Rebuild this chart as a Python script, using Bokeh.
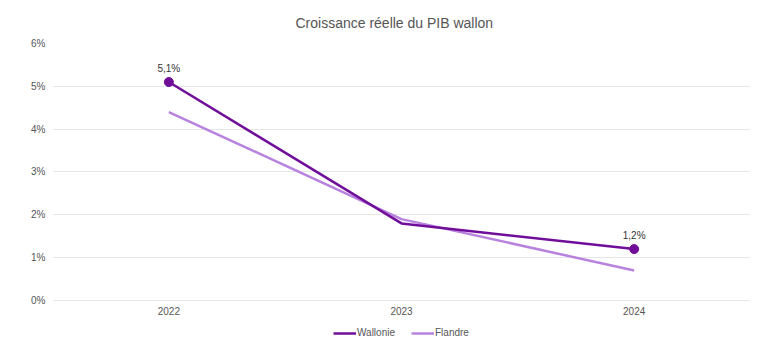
from bokeh.plotting import figure
from bokeh.models import (FactorRange, Range1d, Legend, LegendItem,
                          Title, ColumnDataSource, LabelSet, FixedTicker, CustomJSTickFormatter)
from bokeh.core.properties import value
from bokeh.embed import file_html
from bokeh.resources import INLINE

years = ["2022", "2023", "2024"]
wallonie = [5.1, 1.8, 1.2]
flandre = [4.4, 1.9, 0.7]
label_idx = [0, 2]
yticks = [0, 1, 2, 3, 4, 5, 6]

C_WAL = "#700e9a"
C_FLA = "#b883de"
FONT = "Liberation Sans"

p = figure(width=783, height=349, x_range=FactorRange(*years),
           y_range=Range1d(-1.144, 6), output_backend="svg", toolbar_location=None,
           min_border_left=52, min_border_right=33, min_border_top=43, min_border_bottom=0)
p.x_range.range_padding = 0
p.x_range.factor_padding = 0
p.outline_line_color = None

lw = p.line(years, wallonie, line_color=C_WAL, line_width=2.5)
lf = p.line(years, flandre, line_color=C_FLA, line_width=2.5)
lw.level = "overlay"
src = ColumnDataSource(dict(x=[years[i] for i in label_idx], y=[wallonie[i] for i in label_idx],
                            t=[f"{wallonie[i]:.1f}".replace(".", ",") + "%" for i in label_idx]))
p.scatter("x", "y", source=src, size=9, fill_color=C_WAL, line_color=C_WAL)
p.add_layout(LabelSet(x="x", y="y", text="t", source=src, y_offset=8, text_align="center",
                      text_font=value(FONT), text_font_size="10px", text_color="#333333"))

# category labels drawn under the zero line
xsrc = ColumnDataSource(dict(x=years, y=[0] * len(years), t=years))
p.add_layout(LabelSet(x="x", y="y", text="t", source=xsrc, y_offset=-11, text_align="center",
                      text_baseline="middle", text_font=value(FONT), text_font_size="10px",
                      text_color="#555555"))
p.xaxis.visible = False

p.yaxis.ticker = FixedTicker(ticks=yticks)
p.yaxis.formatter = CustomJSTickFormatter(code="return tick + '%';")
p.yaxis.axis_line_color = None
p.yaxis.major_tick_line_color = None
p.yaxis.minor_tick_line_color = None
p.yaxis.major_label_text_font = FONT
p.yaxis.major_label_text_font_size = "10px"
p.yaxis.major_label_text_color = "#555555"
p.yaxis.major_label_standoff = 1
p.xgrid.grid_line_color = None
p.ygrid.grid_line_color = "#e6e6e6"
p.ygrid.grid_line_width = 1

p.add_layout(Title(text="Croissance réelle du PIB wallon", align="left", text_font=FONT,
                   text_font_size="14px", text_font_style="normal", text_color="#555555",
                   offset=243, standoff=25), "above")

legend = Legend(items=[LegendItem(label="Wallonie", renderers=[lw]),
                       LegendItem(label="Flandre", renderers=[lf])],
                orientation="horizontal", location=(281, 11), background_fill_alpha=0,
                border_line_color=None, label_text_font=FONT, label_text_font_size="10px",
                label_text_color="#555555", glyph_width=23, glyph_height=10, label_standoff=1,
                spacing=16, padding=0, margin=0)
p.add_layout(legend, "center")

open("out.html", "w").write(file_html(p, INLINE))
